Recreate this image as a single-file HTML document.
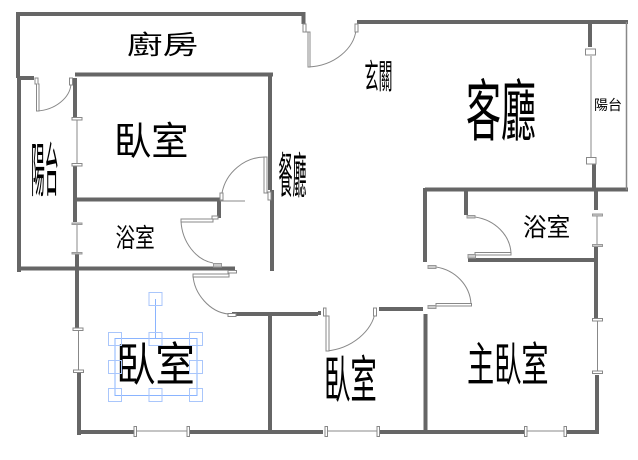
<!DOCTYPE html>
<html>
<head>
<meta charset="utf-8">
<style>
html,body{margin:0;padding:0;background:#fff;width:638px;height:460px;overflow:hidden}
svg{display:block}
text{font-family:"Liberation Sans","Noto Sans CJK TC",sans-serif;font-size:40px;fill:#000}
.w{stroke:#666;stroke-width:4;fill:none}
.t{stroke:#888;stroke-width:1;fill:none}
.b{stroke:#888;stroke-width:1;fill:#fff}
.g{stroke:#999;stroke-width:1;fill:#ccc}
.h{stroke:#a9c6fb;stroke-width:1;fill:none}
</style>
</head>
<body>
<svg width="638" height="460" viewBox="0 0 638 460" xmlns="http://www.w3.org/2000/svg">
<!-- walls -->
<g class="w">
<path d="M16 14H303.500V24"/>
<path d="M18 12V78M19 78V272"/>
<path d="M17 78H34"/>
<path d="M75 78V118M75 166V222"/>
<path d="M75 74.500H273"/>
<path d="M270 75V190M272 190V271"/>
<path d="M75 199.500H221M219 199.500V218"/>
<path d="M77 254V330"/>
<path d="M18 268.500H235"/>
<path d="M79 373V435"/>
<path d="M80 432H135M190 432H323M380 432H524M566 432H598"/>
<path d="M232 314H318"/>
<path d="M270 312V432"/>
<path d="M379 309H423"/>
<path d="M425.500 314V432"/>
<path d="M357 22H628"/>
<path d="M590 24V47M594 164V190"/>
<path d="M425 189.500H628"/>
<path d="M425 188V262"/>
<path d="M466 190V215"/>
<path d="M468 260H598"/>
<path d="M596 190V210M596 247V319M597 375V434"/>
</g>
<!-- thin lines -->
<g class="t">
<path d="M626.500 22V190" stroke-width="1.500"/>
<path d="M591 56V157"/>
<path d="M77 120V164M77 225V253"/>
<path d="M78.500 330V370"/>
<path d="M137 431H187M328 431H377M527 431H564"/>
<path d="M597 216V244M597.500 320V372"/>
<path d="M220 201H245"/>
<!-- door arcs -->
<path d="M37 111C55 110 70 98 71 84"/>
<path d="M308 67C335 66 354 48 356 30"/>
<path d="M222 193C226 172 245 157 265 157"/>
<path d="M181 221C182 242 196 260 213 263"/>
<path d="M193 275C194 294 210 312 228 314"/>
<path d="M326 351C352 349 373 330 375 312"/>
<path d="M475 217C495 220 510 235 511 253"/>
<path d="M436 267C455 270 470 285 471 304"/>
</g>
<!-- door leaves and jambs -->
<g class="b">
<path d="M35 78H38V84H39V111H36.500V84H35Z"/>
<rect x="69.500" y="78" width="3" height="7"/>
<path d="M303 24H306V32H310V67H308V32H303Z"/>
<rect x="355" y="24" width="3" height="8"/>
<rect x="220" y="193" width="3" height="7"/>
<path d="M264 157H267V192H271V200H268V193H264Z"/>
<path d="M181 219H212V216H218V219H213V222H181Z"/>
<path d="M193 274H228V270.500H236.500V273H229V277H193Z"/>
<rect x="228" y="313.500" width="8" height="3"/>
<rect x="323.500" y="308" width="2.500" height="8"/>
<path d="M326 316H329V351H326Z"/>
<rect x="373.500" y="308" width="3" height="8"/>
<rect x="475" y="252.500" width="36" height="2.500"/>
<rect x="436" y="303.500" width="35.500" height="2.500"/>
</g>
<g class="g">
<rect x="467" y="215.500" width="8" height="2.500"/>
<rect x="468" y="254.500" width="7.500" height="3.500"/>
<rect x="428" y="265.500" width="8" height="3"/>
<rect x="428" y="305.500" width="8" height="3"/>
<rect x="213.500" y="263.500" width="8" height="3.500"/>
</g>
<rect x="318" y="311" width="3" height="4" fill="#666"/>
<!-- window blocks -->
<g class="b">
<rect x="585.500" y="49" width="10" height="6"/>
<rect x="586.500" y="157.500" width="9.500" height="6.500"/>
<rect x="72" y="117.500" width="10" height="2.500"/>
<rect x="72" y="163.500" width="10" height="2.500"/>
<rect x="73" y="328" width="10" height="2.500"/>
<rect x="73.500" y="370" width="10" height="2.500"/>
<rect x="134" y="426.500" width="2.500" height="10"/>
<rect x="187" y="426.500" width="2.500" height="10"/>
<rect x="325" y="426.500" width="2.500" height="10"/>
<rect x="377" y="426.500" width="2.500" height="10"/>
<rect x="524.500" y="426.500" width="2.500" height="10"/>
<rect x="564" y="426.500" width="2.500" height="10"/>
<rect x="592.500" y="318.500" width="10" height="2.500"/>
<rect x="592.500" y="371" width="10" height="2.500"/>
</g>
<g class="g">
<rect x="72" y="223" width="10" height="1.500"/>
<rect x="72" y="252.500" width="10" height="1.500"/>
<rect x="592.500" y="214" width="10" height="2"/>
<rect x="592.500" y="244.500" width="10" height="2"/>
</g>
<!-- labels -->
<text transform="translate(127 54) scale(.89 .65)">廚房</text>
<text transform="translate(114 155) scale(.93 .98)">臥室</text>
<text transform="translate(31 191) scale(.345 1.47)">陽台</text>
<text transform="translate(278.500 193) scale(.35 1.22)">餐廳</text>
<text transform="translate(364.500 88.500) scale(.35 .85)">玄關</text>
<text transform="translate(466 135) scale(.875 1.68)">客廳</text>
<text transform="translate(594 110) scale(.35 .35)">陽台</text>
<text transform="translate(115.500 247) scale(.49 .65)">浴室</text>
<text transform="translate(523 236) scale(.59 .62)">浴室</text>
<text transform="translate(116 381) scale(.985 1.17)">臥室</text>
<text transform="translate(324 398) scale(.66 1.28)">臥室</text>
<text transform="translate(467 381) scale(.68 1.17)">主臥室</text>
<!-- selection handles -->
<g>
<rect x="115" y="338.500" width="82" height="57" fill="none" stroke="#8ab4ff" stroke-width="1"/>
<path d="M155.500 299V338" fill="none" stroke="#8ab4ff" stroke-width="1"/>
<rect class="h" x="149" y="292.500" width="13" height="13"/>
<rect class="h" x="108.500" y="332.500" width="13" height="13"/>
<rect class="h" x="149" y="332.500" width="13" height="13"/>
<rect class="h" x="189.500" y="332.500" width="13" height="13"/>
<rect class="h" x="108.500" y="360.500" width="13" height="13"/>
<rect class="h" x="189.500" y="360.500" width="13" height="13"/>
<rect class="h" x="108.500" y="388.500" width="13" height="13"/>
<rect class="h" x="149" y="388.500" width="13" height="13"/>
<rect class="h" x="189.500" y="388.500" width="13" height="13"/>
</g>
</svg>
</body>
</html>
